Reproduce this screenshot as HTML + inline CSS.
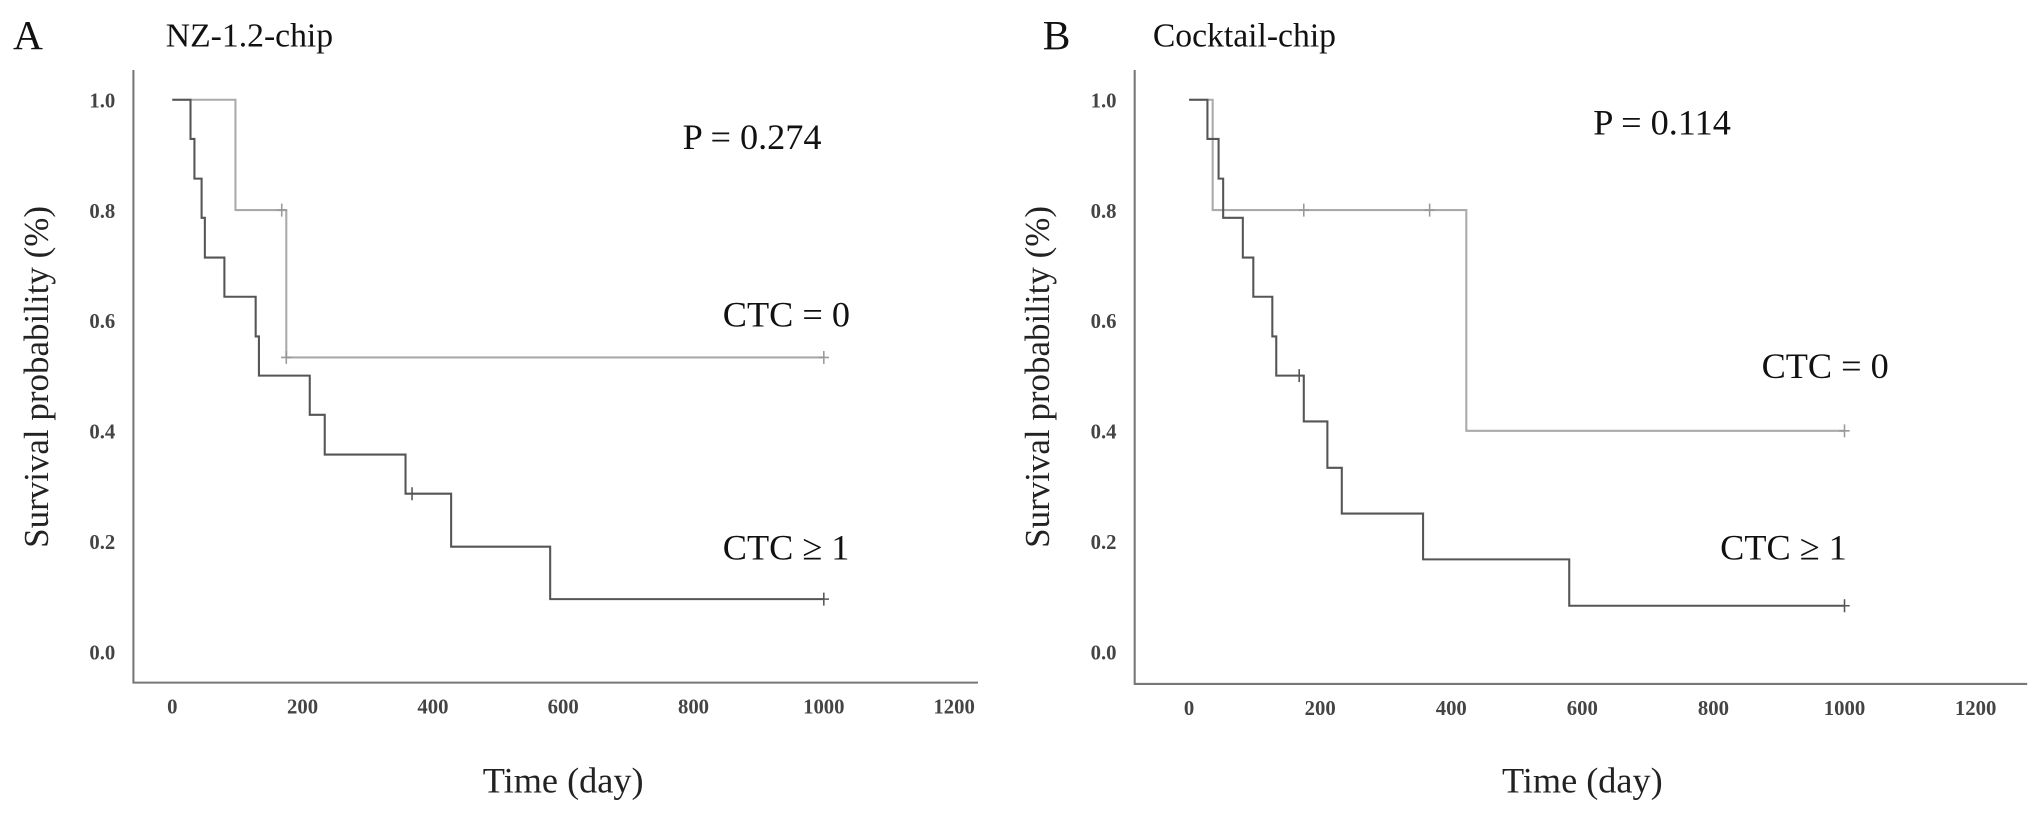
<!DOCTYPE html>
<html><head><meta charset="utf-8"><style>
html,body{margin:0;padding:0;background:#fff}
svg{display:block;font-family:"Liberation Serif",serif}
</style></head><body>
<svg width="2031" height="813" viewBox="0 0 2031 813">
<g id="chart" transform="scale(1.2953)">
<text x="10" y="38" font-size="32" fill="#111">A</text>
<text x="128" y="36" font-size="26" fill="#111">NZ-1.2-chip</text>
<text x="805" y="38" font-size="32" fill="#111">B</text>
<text x="890" y="36" font-size="26" fill="#111">Cocktail-chip</text>
</g>
</svg>
<script>
const xTicks=[0,200,400,600,800,1000,1200];
const yTicks=[0.0,0.2,0.4,0.6,0.8,1.0];
const yTickLabels=["0.0","0.2","0.4","0.6","0.8","1.0"];
// Panel A
const aHighTimes=[0,28,34,45,50,80,128,133,211,234,358,428,580,1000];
const aHighSurv=[1,0.929,0.857,0.786,0.714,0.643,0.571,0.5,0.429,0.357,0.286,0.19,0.095,0.095];
const aHighCensor=[368,1000];
const aHighCensorSurv=[0.286,0.095];
const aZeroTimes=[0,97,175,1000];
const aZeroSurv=[1,0.8,0.533,0.533];
const aZeroCensor=[168,175,1000];
const aZeroCensorSurv=[0.8,0.533,0.533];
// Panel B
const bHighTimes=[0,28,45,52,82,98,127,133,175,211,233,357,580,1000];
const bHighSurv=[1,0.929,0.857,0.786,0.714,0.643,0.571,0.5,0.417,0.333,0.25,0.167,0.083,0.083];
const bHighCensor=[168,1000];
const bHighCensorSurv=[0.5,0.083];
const bZeroTimes=[0,36,423,1000];
const bZeroSurv=[1,0.8,0.4,0.4];
const bZeroCensor=[175,367,1000];
const bZeroCensorSurv=[0.8,0.8,0.4];

const NS="http://www.w3.org/2000/svg";
const svg=document.getElementById('chart');
function mk(tag,attrs,parent){const e=document.createElementNS(NS,tag);for(const k in attrs)e.setAttribute(k,attrs[k]);(parent||svg).appendChild(e);return e;}

function panel(p){
  const g=mk('g',{});
  
  
  const xs=v=>p.x0+v*(p.x1000-p.x0)/1000;
  const ys=v=>p.y0-v*(p.y0-p.y1)/1;
  const ax=mk('path',{d:`M${p.axX} ${p.axTop} V${p.axBot} H${p.axRight}`,stroke:'#777',fill:'none','stroke-width':1.6},g);
  
  
  xTicks.forEach(t=>{const e=mk('text',{x:xs(t),y:p.axBot+24,'font-size':16,'font-weight':'bold','text-anchor':'middle',fill:'#444'},g);e.textContent=t;
    
    });
  yTicks.forEach((t,i)=>{const e=mk('text',{x:p.axX-14,y:ys(t)+6,'font-size':16,'font-weight':'bold','text-anchor':'end',fill:'#444'},g);e.textContent=yTickLabels[i];
    
    });
  function curve(T,S,col,name){let d=`M${xs(T[0])} ${ys(S[0])}`;for(let i=1;i<T.length;i++){d+=` H${xs(T[i])} V${ys(S[i])}`;}
    const e=mk('path',{d,stroke:col,fill:'none','stroke-width':1.6},g);
    
    }
  function cens(T,S,col,name){T.forEach((t,i)=>{const e=mk('path',{d:`M${xs(t)} ${ys(S[i])-5} v10 M${xs(t)-4} ${ys(S[i])} h8`,stroke:col,'stroke-width':1.2},g);
    
    });}
  curve(p.zT,p.zS,'#aaa','ctc-0-curve');
  cens(p.zC,p.zCS,'#999','ctc-0-censor-mark');
  curve(p.hT,p.hS,'#555','ctc-ge-1-curve');
  cens(p.hC,p.hCS,'#555','ctc-ge-1-censor-mark');
  const yt=mk('text',{transform:`translate(${p.axX-66},${p.y0-212}) rotate(-90)`,'font-size':27,'text-anchor':'middle',fill:'#222'},g);
  yt.textContent='Survival probability  (%)';
  
  
  const xt=mk('text',{x:xs(600),y:612,'font-size':28,'text-anchor':'middle',fill:'#222'},g);
  xt.textContent='Time (day)';
  
  
  const pv=mk('text',{x:p.pX,y:p.pY,'font-size':28,fill:'#111'},g);
  pv.textContent=p.pText;
  
  
  const l0=mk('text',{x:p.l0X,y:p.l0Y,'font-size':28,fill:'#111'},g);
  l0.textContent='CTC = 0';
  
  
  const l1=mk('text',{x:p.l1X,y:p.l1Y,'font-size':28,fill:'#111'},g);
  l1.textContent='CTC \u2265 1';
  
  
}
panel({id:'panel-a',x0:133,x1000:636,y0:503,y1:77,axX:103,axTop:54,axBot:527,axRight:755,
  hT:aHighTimes,hS:aHighSurv,hC:aHighCensor,hCS:aHighCensorSurv,zT:aZeroTimes,zS:aZeroSurv,zC:aZeroCensor,zCS:aZeroCensorSurv,
  pText:'P = 0.274',pX:527,pY:115,l0X:558,l0Y:252,l1X:558,l1Y:432});
panel({id:'panel-b',x0:918,x1000:1424,y0:503,y1:77,axX:876,axTop:54,axBot:528,axRight:1565,
  hT:bHighTimes,hS:bHighSurv,hC:bHighCensor,hCS:bHighCensorSurv,zT:bZeroTimes,zS:bZeroSurv,zC:bZeroCensor,zCS:bZeroCensorSurv,
  pText:'P = 0.114',pX:1230,pY:104,l0X:1360,l0Y:292,l1X:1328,l1Y:432});
</script>
</body></html>
